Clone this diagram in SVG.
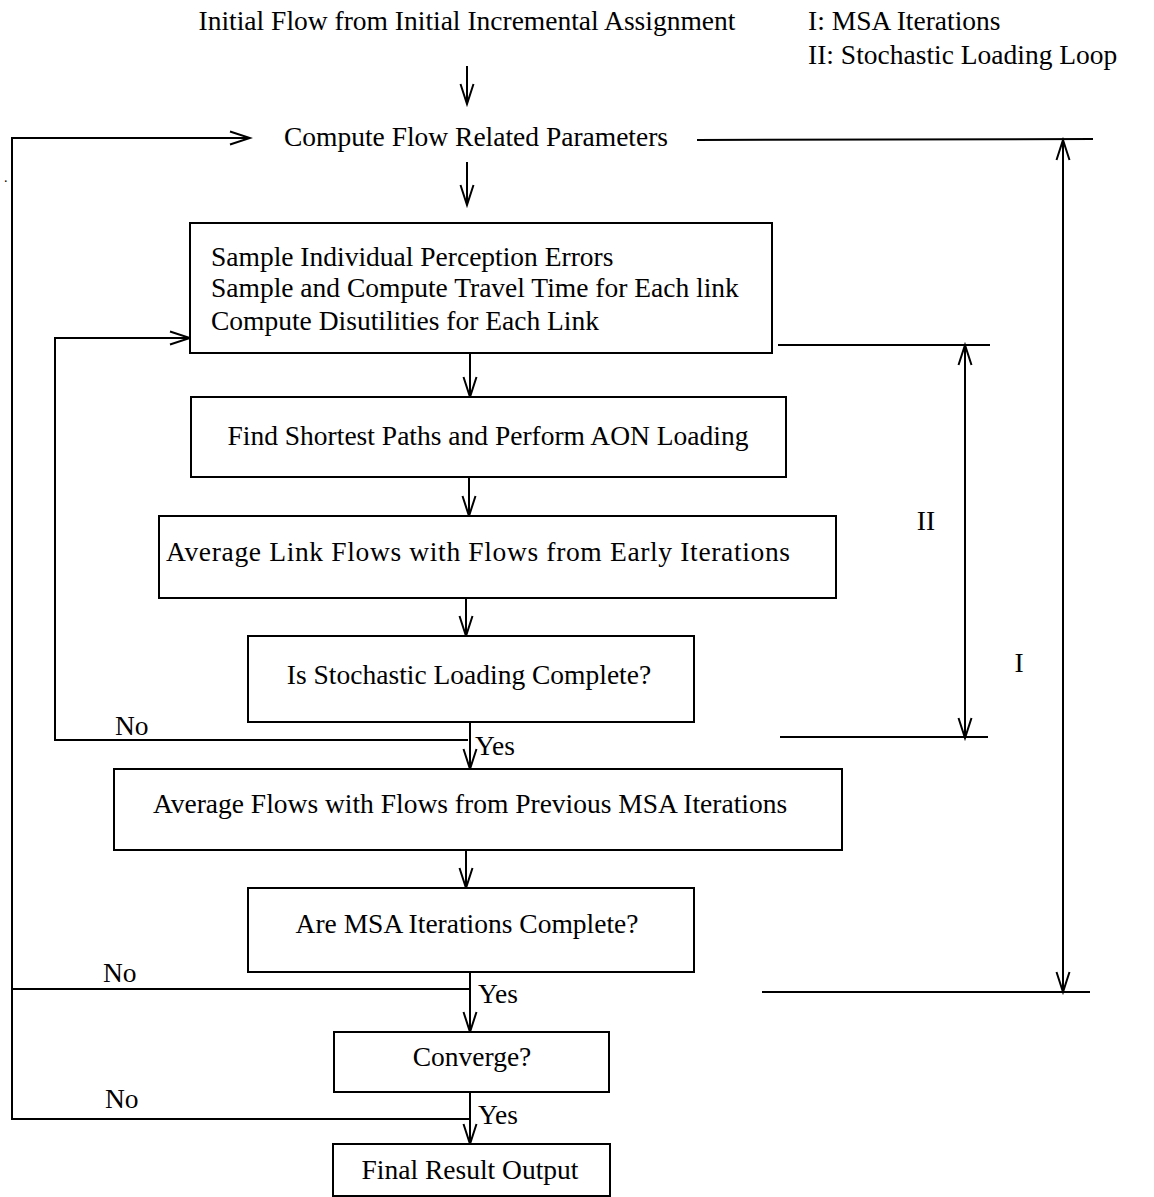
<svg xmlns="http://www.w3.org/2000/svg" width="1154" height="1197" viewBox="0 0 1154 1197">
<defs>
<style>
text{font-family:"Liberation Serif","Times New Roman",serif;font-size:27.5px;fill:#000}
.c{text-anchor:middle}
.box{fill:#fff;stroke:#000;stroke-width:2}
.ln{fill:none;stroke:#000;stroke-width:2}
.ar{marker-end:url(#arr)}
.dar{marker-end:url(#arr);marker-start:url(#arrs)}
</style>
<marker id="arr" markerUnits="userSpaceOnUse" markerWidth="24" markerHeight="16" viewBox="0 0 24 16" refX="21" refY="8" orient="auto">
<path d="M1,1.5 L21,8 L1,14.5" fill="none" stroke="#000" stroke-width="2"/>
</marker>
<marker id="arrs" markerUnits="userSpaceOnUse" markerWidth="24" markerHeight="16" viewBox="0 0 24 16" refX="21" refY="8" orient="auto-start-reverse">
<path d="M1,1.5 L21,8 L1,14.5" fill="none" stroke="#000" stroke-width="2"/>
</marker>
</defs>
<rect width="1154" height="1197" fill="#fff"/>

<g id="connectors">
<line class="ln ar" x1="467" y1="66" x2="467" y2="104"/>
<line class="ln ar" x1="467" y1="162" x2="467" y2="205"/>
<line class="ln ar" x1="470" y1="353" x2="470" y2="397"/>
<line class="ln ar" x1="469" y1="477" x2="469" y2="516"/>
<line class="ln ar" x1="466" y1="598" x2="466" y2="636"/>
<line class="ln ar" x1="470" y1="722" x2="470" y2="769"/>
<polyline class="ln ar" points="468,740 55,740 55,338 190,338"/>
<line class="ln ar" x1="466" y1="850" x2="466" y2="888"/>
<line class="ln ar" x1="470" y1="972" x2="470" y2="1032"/>
<line class="ln" x1="470" y1="989" x2="12" y2="989"/>
<line class="ln ar" x1="470" y1="1092" x2="470" y2="1144"/>
<polyline class="ln ar" points="470,1119 12,1119 12,138 250,138"/>
<line class="ln" x1="697" y1="140" x2="1093" y2="139"/>
<line class="ln dar" x1="1063" y1="140" x2="1063" y2="992"/>
<line class="ln" x1="762" y1="992" x2="1090" y2="992"/>
<line class="ln" x1="778" y1="345" x2="990" y2="345"/>
<line class="ln dar" x1="965" y1="345" x2="965" y2="738"/>
<line class="ln" x1="780" y1="737" x2="988" y2="737"/>
</g>

<g id="n-initial"><text class="c" x="467" y="30">Initial Flow from Initial Incremental Assignment</text></g>
<g id="legend">
<text x="808" y="30">I: MSA Iterations</text>
<text x="808" y="64">II: Stochastic Loading Loop</text>
</g>
<g id="n-compute"><text class="c" x="476" y="146">Compute Flow Related Parameters</text></g>
<g id="dot"><text x="4" y="182" style="font-size:14px">.</text></g>

<g id="n-sample">
<rect class="box" x="190" y="223" width="582" height="130"/>
<text x="211" y="266">Sample Individual Perception Errors</text>
<text x="211" y="297">Sample and Compute Travel Time for Each link</text>
<text x="211" y="330">Compute Disutilities for Each Link</text>
</g>
<g id="n-shortest">
<rect class="box" x="191" y="397" width="595" height="80"/>
<text class="c" x="488" y="445">Find Shortest Paths and Perform AON Loading</text>
</g>
<g id="n-avglink">
<rect class="box" x="159" y="516" width="677" height="82"/>
<text x="166" y="561" textLength="624">Average Link Flows with Flows from Early Iterations</text>
</g>
<g id="n-stoch">
<rect class="box" x="248" y="636" width="446" height="86"/>
<text class="c" x="469" y="684">Is Stochastic Loading Complete?</text>
</g>
<g id="n-avgflows">
<rect class="box" x="114" y="769" width="728" height="81"/>
<text class="c" x="470" y="813">Average Flows with Flows from Previous MSA Iterations</text>
</g>
<g id="n-msa">
<rect class="box" x="248" y="888" width="446" height="84"/>
<text class="c" x="467" y="933">Are MSA Iterations Complete?</text>
</g>
<g id="n-converge">
<rect class="box" x="334" y="1032" width="275" height="60"/>
<text class="c" x="472" y="1066">Converge?</text>
</g>
<g id="n-final">
<rect class="box" x="333" y="1144" width="277" height="52"/>
<text class="c" x="470" y="1179">Final Result Output</text>
</g>

<g id="labels">
<text x="115" y="735">No</text>
<text x="475" y="755">Yes</text>
<text x="103" y="982">No</text>
<text x="478" y="1003">Yes</text>
<text x="105" y="1108">No</text>
<text x="478" y="1124">Yes</text>
<text class="c" x="926" y="530">II</text>
<text class="c" x="1019" y="672">I</text>
</g>
</svg>
